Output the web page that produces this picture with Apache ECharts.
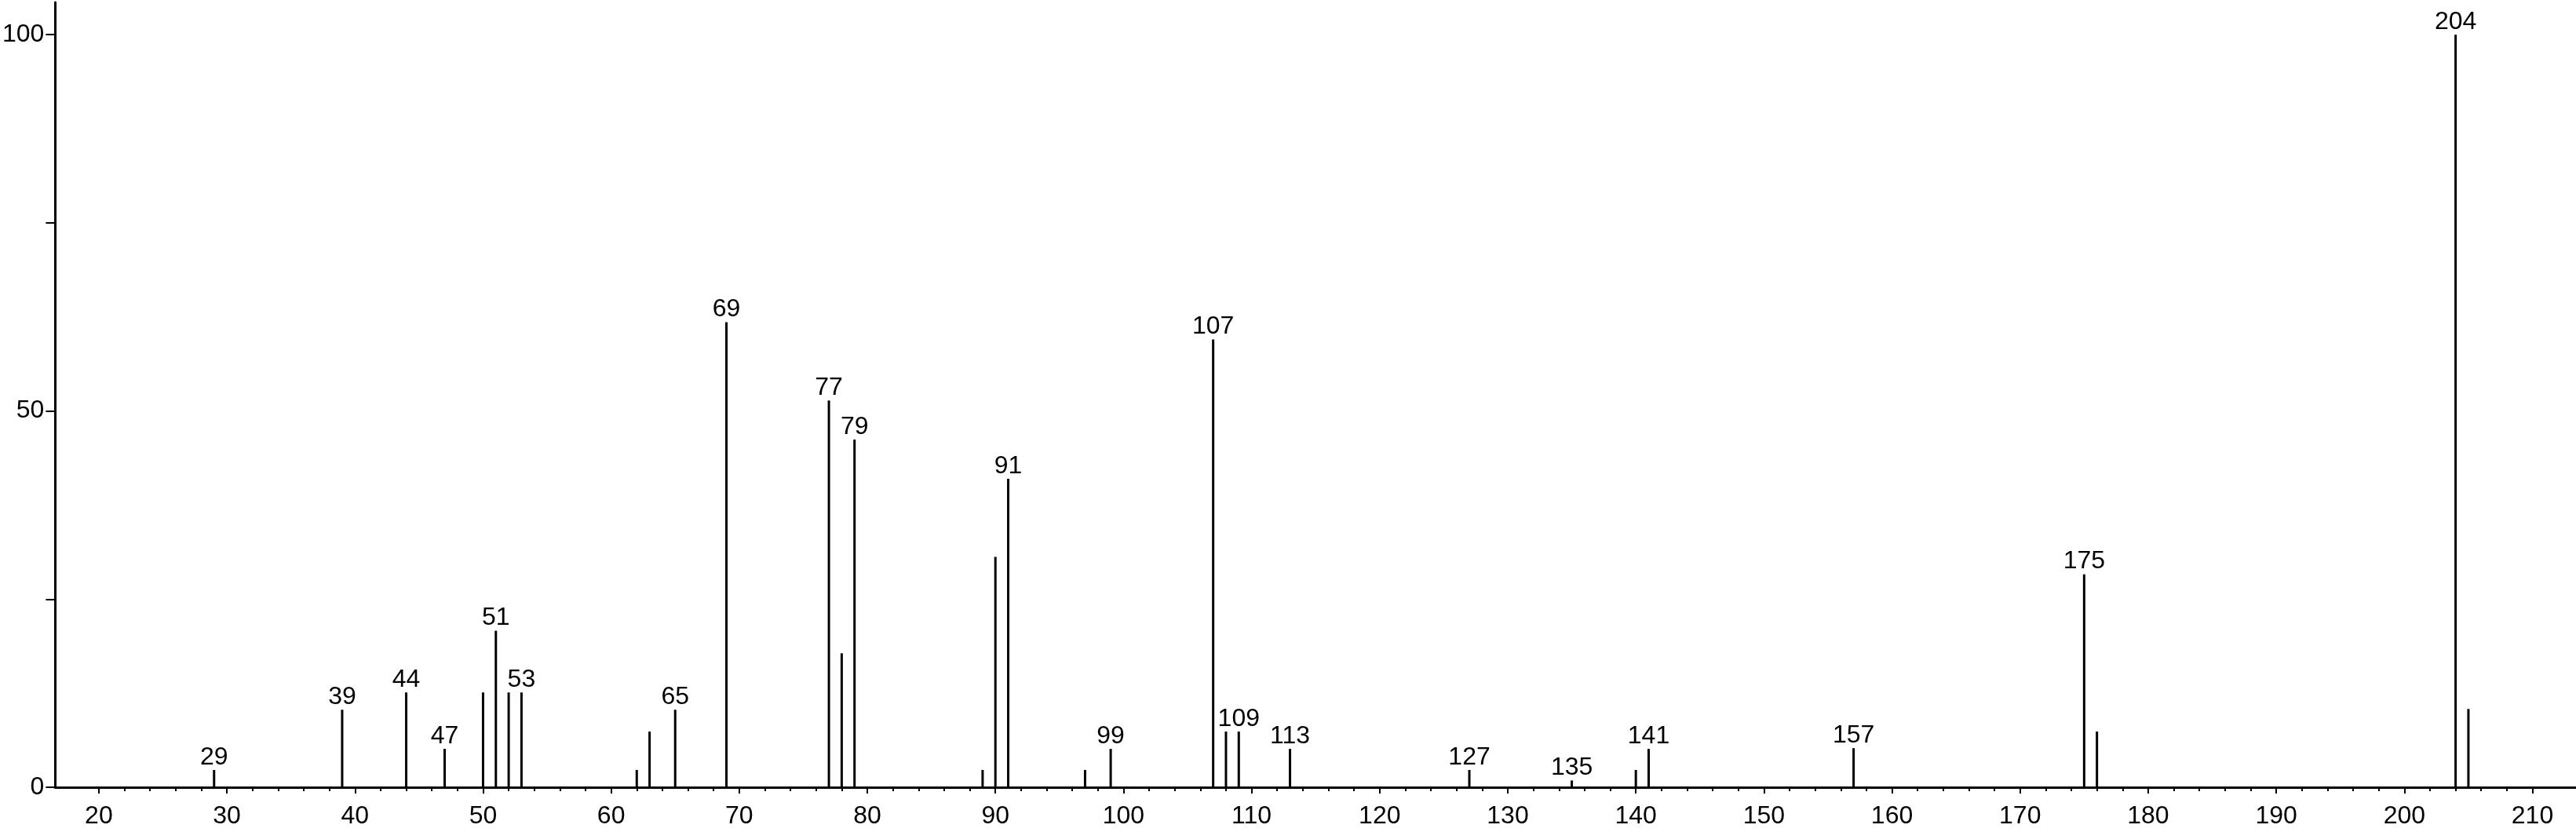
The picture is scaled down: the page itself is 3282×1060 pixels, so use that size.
<!DOCTYPE html>
<html>
<head>
<meta charset="utf-8">
<title>Mass spectrum</title>
<script src="https://cdn.jsdelivr.net/npm/echarts@6/dist/echarts.min.js"></script>
<style>
  html, body { margin: 0; padding: 0; background: #fff; }
  #chart { width: 3282px; height: 1060px; }
</style>
</head>
<body>
<div id="chart"></div>
<script>
// m/z of each peak and its relative intensity (%)
var mz = [29, 39, 44, 47, 50, 51, 52, 53, 62, 63, 65, 69, 77, 78, 79, 89, 90, 91, 97, 99,
  107, 108, 109, 113, 127, 135, 140, 141, 157, 175, 176, 204, 205];
var intensity = [2.3, 10.3, 12.6, 5.1, 12.6, 20.8, 12.6, 12.6, 2.3, 7.4, 10.3, 61.8, 51.4, 17.8, 46.2, 2.3, 30.6, 41.0, 2.3, 5.1,
  59.5, 7.4, 7.4, 5.1, 2.3, 0.9, 2.3, 5.1, 5.2, 28.3, 7.4, 100, 10.4];
// peaks that carry an m/z label
var labeledPeaks = [29, 39, 44, 47, 51, 53, 65, 69, 77, 79, 91, 99, 107, 109, 113, 127, 135, 141, 157, 175, 204];

var xMajorTicks = [20, 30, 40, 50, 60, 70, 80, 90, 100, 110, 120, 130, 140, 150, 160, 170, 180, 190, 200, 210];
var xMinorTicks = [];
for (var t = 20; t <= 210; t += 2) xMinorTicks.push(t);
var yTicks = [0, 25, 50, 75, 100];
var yLabels = [0, 50, 100];

var font = "'Liberation Sans', Arial, sans-serif";

var chart = echarts.init(document.getElementById("chart"));

var peakData = mz.map(function(m, i) {
  return {
    value: [m, intensity[i]],
    label: { show: labeledPeaks.indexOf(m) >= 0 }
  };
});

var option = {
  animation: false,
  backgroundColor: "#fff",
  grid: {
    left: 69,
    right: 0,
    top: 3,
    bottom: 57,
    containLabel: false
  },
  xAxis: [
    {
      type: "value",
      min: 16.6,
      max: 213.4,
      axisLine: { show: true, lineStyle: { color: "#000", width: 3 } },
      axisTick: {
        show: true,
        customValues: xMinorTicks,
        length: 5,
        lineStyle: { color: "#000", width: 2 }
      },
      axisLabel: { show: false },
      splitLine: { show: false }
    },
    {
      type: "value",
      position: "bottom",
      min: 16.6,
      max: 213.4,
      axisLine: { show: false },
      axisTick: {
        show: true,
        customValues: xMajorTicks,
        length: 8,
        lineStyle: { color: "#000", width: 2 }
      },
      axisLabel: {
        show: true,
        customValues: xMajorTicks,
        margin: 21,
        color: "#000",
        fontSize: 32,
        fontFamily: font
      },
      splitLine: { show: false }
    }
  ],
  yAxis: {
    type: "value",
    min: 0,
    max: 104.3,
    axisLine: { show: true, lineStyle: { color: "#000", width: 3 } },
    axisTick: {
      show: true,
      customValues: yTicks,
      length: 12,
      lineStyle: { color: "#000", width: 2 }
    },
    axisLabel: {
      show: true,
      customValues: yLabels,
      margin: 14,
      color: "#000",
      fontSize: 32,
      fontFamily: font
    },
    splitLine: { show: false }
  },
  series: [
    {
      type: "bar",
      xAxisIndex: 0,
      barWidth: 3,
      itemStyle: { color: "#000" },
      label: {
        position: "top",
        distance: 0,
        color: "#000",
        fontSize: 32,
        fontFamily: font,
        formatter: function(p) {
          return p.value[0];
        }
      },
      data: peakData
    }
  ]
};

chart.setOption(option);
</script>
</body>
</html>
